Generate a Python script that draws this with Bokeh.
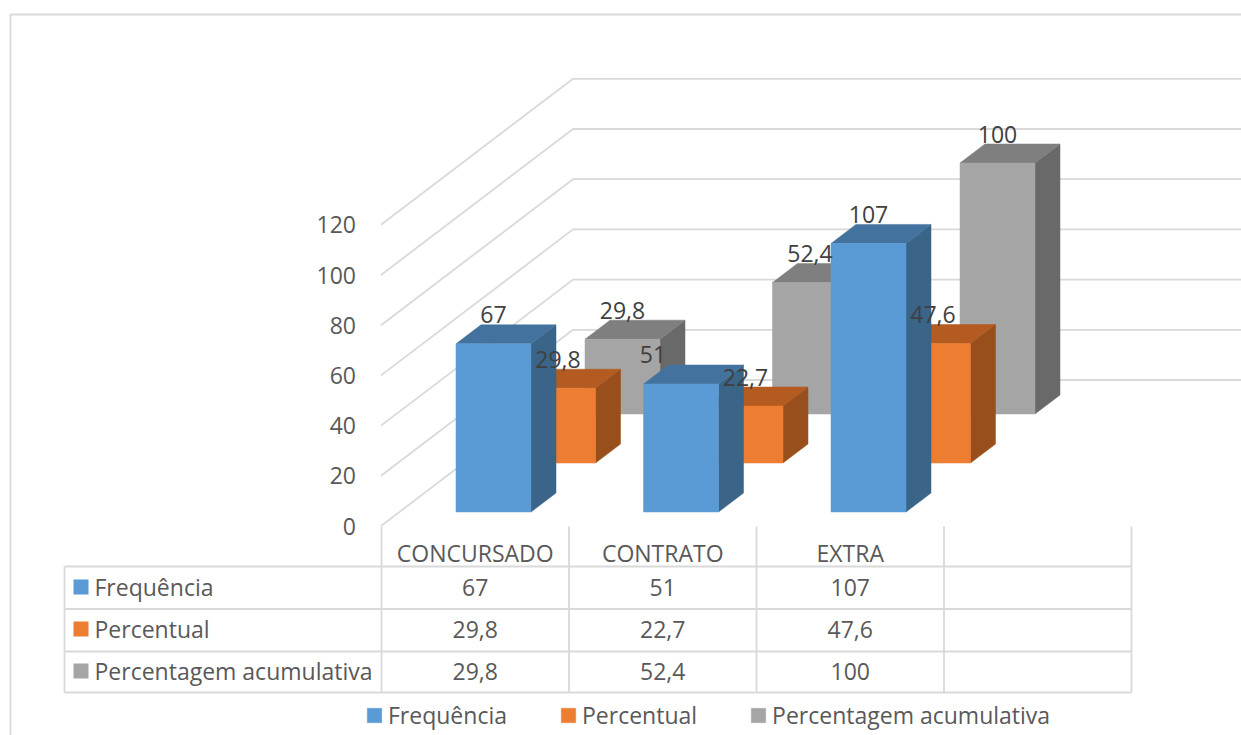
from bokeh.embed import file_html
from bokeh.models import FixedTicker, Legend, LegendItem, LinearAxis
from bokeh.plotting import figure
from bokeh.resources import INLINE
from bokeh.core.properties import value

# Chart values
categories = ["CONCURSADO", "CONTRATO", "EXTRA", ""]
frequencia = [67, 51, 107]
percentual = [29.8, 22.7, 47.6]
acumulativa = [29.8, 52.4, 100]
series_names = ["Frequência", "Percentual", "Percentagem acumulativa"]
value_ticks = [0, 20, 40, 60, 80, 100, 120]

# Face colours per series: front, top, side
palette_blue = ("#5B9BD5", "#44729F", "#3A6488")
palette_orange = ("#ED7D31", "#B35B20", "#994F1C")
palette_gray = ("#A5A5A5", "#7F7F7F", "#696969")

WIDTH, HEIGHT = 1241, 735
PX_PER_CAT = 187.5
PX_PER_VAL = 2.51
ORIGIN_X, ORIGIN_Y = 380.5, 525.5

FONT = "Open Sans"
TEXT_COLOR = "#595959"
LABEL_COLOR = "#404040"
GRID_COLOR = "#D9D9D9"
FONT_SIZE = "23px"
GRID_WIDTH = 1.8


def sx(px):
    """Horizontal window pixel to category units."""
    return (px - ORIGIN_X) / PX_PER_CAT


def sy(px):
    """Vertical window pixel to value units."""
    return (ORIGIN_Y - px) / PX_PER_VAL


def dx(px):
    return px / PX_PER_CAT


def dy(px):
    return px / PX_PER_VAL


p = figure(
    width=WIDTH, height=HEIGHT,
    x_range=(sx(0), sx(WIDTH)), y_range=(sy(HEIGHT), sy(0)),
    x_axis_type=None, y_axis_type=None,
    toolbar_location=None, output_backend="svg",
    min_border=0, outline_line_color=None,
)
p.grid.visible = False

# Outer chart border
p.line([sx(10), sx(10), sx(WIDTH)], [sy(HEIGHT), sy(14), sy(14)],
       line_color=GRID_COLOR, line_width=GRID_WIDTH)

# Side wall and back wall gridlines
wall_dx, wall_dy = dx(192), dy(146)
p.multi_line(
    xs=[[0, wall_dx, sx(WIDTH)] for _ in value_ticks],
    ys=[[v, v + wall_dy, v + wall_dy] for v in value_ticks],
    line_color=GRID_COLOR, line_width=GRID_WIDTH,
)

# Value axis sits on the front edge of the side wall
axis = LinearAxis(
    fixed_location=0,
    ticker=FixedTicker(ticks=value_ticks),
    axis_line_color=None,
    major_tick_line_color=None,
    minor_tick_line_color=None,
    major_label_standoff=19,
    major_label_text_font=FONT,
    major_label_text_font_size=FONT_SIZE,
    major_label_text_color=TEXT_COLOR,
)
p.add_layout(axis, "left")

# Bars, back row first so nearer rows paint over farther ones
bar_w = dx(75)
face_dx, face_dy = dx(25), dy(19)
row_dx, row_dy = dx(64.5), dy(49)
first_left, first_base = sx(455.5), sy(511.5)

rows = [
    (2, acumulativa, palette_gray),
    (1, percentual, palette_orange),
    (0, frequencia, palette_blue),
]
fronts = {}
label_xs, label_ys, label_txt = [], [], []
for row, vals, (front, top, side) in rows:
    lefts = [first_left + i + row * row_dx for i in range(len(vals))]
    base = first_base + row * row_dy
    tops = [base + v for v in vals]
    for x0, t in zip(lefts, tops):
        x1 = x0 + bar_w
        p.patch([x1, x1 + face_dx, x1 + face_dx, x1],
                [base, base + face_dy, t + face_dy, t],
                fill_color=side, line_color=side, line_width=0.5)
        p.patch([x0, x0 + face_dx, x1 + face_dx, x1],
                [t, t + face_dy, t + face_dy, t],
                fill_color=top, line_color=top, line_width=0.5)
        fr = p.quad(left=x0, right=x1, bottom=base, top=t,
                    fill_color=front, line_color=front, line_width=0.5)
        fronts.setdefault(row, fr)
    for i, (x0, t, v) in enumerate(zip(lefts, tops, vals)):
        # The label of the middle blue bar is pulled left, clear of its top face
        nudge = dx(-28) if (row == 0 and i == 1) else 0
        label_xs.append(x0 + bar_w / 2 + nudge)
        label_ys.append(t + dy(29))
        label_txt.append(f"{v:g}".replace(".", ","))

p.text(x=label_xs, y=label_ys, text=label_txt,
       text_font=value(FONT), text_font_size=FONT_SIZE, text_color=LABEL_COLOR,
       text_align="center", text_baseline="middle")

# Data table below the plot
row_lines = [566, 608.5, 651, 692]
col_lines = [381, 568.5, 756, 943.5, 1131]
table_left = 64
table_xs = [[sx(table_left), sx(col_lines[-1])] for _ in row_lines]
table_ys = [[sy(y), sy(y)] for y in row_lines]
table_xs.append([sx(table_left), sx(table_left)])
table_ys.append([sy(row_lines[0]), sy(row_lines[-1])])
for x in col_lines:
    table_xs.append([sx(x), sx(x)])
    table_ys.append([sy(526), sy(row_lines[-1])])
p.multi_line(xs=table_xs, ys=table_ys, line_color=GRID_COLOR, line_width=GRID_WIDTH)

col_centers = [(a + b) / 2 for a, b in zip(col_lines[:-1], col_lines[1:])]
p.text(x=[sx(c) for c in col_centers], y=[sy(552)] * 4, text=categories,
       text_font=value(FONT), text_font_size=FONT_SIZE, text_color=TEXT_COLOR,
       text_align="center", text_baseline="middle")

row_centers = [586.5, 628.5, 670.5]
table_rows = [
    (frequencia, palette_blue[0]),
    (percentual, palette_orange[0]),
    (acumulativa, palette_gray[0]),
]
for name, (vals, color), yc in zip(series_names, table_rows, row_centers):
    p.scatter([sx(80.5)], [sy(yc)], marker="square", size=15,
              fill_color=color, line_color=None)
    p.text([sx(94)], [sy(yc)], text=[name],
           text_font=value(FONT), text_font_size=FONT_SIZE, text_color=TEXT_COLOR,
           text_align="left", text_baseline="middle")
    p.text(x=[sx(c) for c in col_centers[:3]], y=[sy(yc)] * 3,
           text=[f"{v:g}".replace(".", ",") for v in vals],
           text_font=value(FONT), text_font_size=FONT_SIZE, text_color=TEXT_COLOR,
           text_align="center", text_baseline="middle")

# Legend along the bottom edge
legend = Legend(
    items=[LegendItem(label=name, renderers=[fronts[r]])
           for name, r in zip(series_names, [0, 1, 2])],
    orientation="horizontal",
    location=(365, 4),
    glyph_width=18, glyph_height=18,
    label_standoff=5, spacing=52, padding=0, margin=0,
    border_line_color=None, background_fill_alpha=0,
    label_text_font=FONT, label_text_font_size=FONT_SIZE,
    label_text_color=TEXT_COLOR,
)
p.add_layout(legend, "center")

open("out.html", "w").write(file_html(p, INLINE))
